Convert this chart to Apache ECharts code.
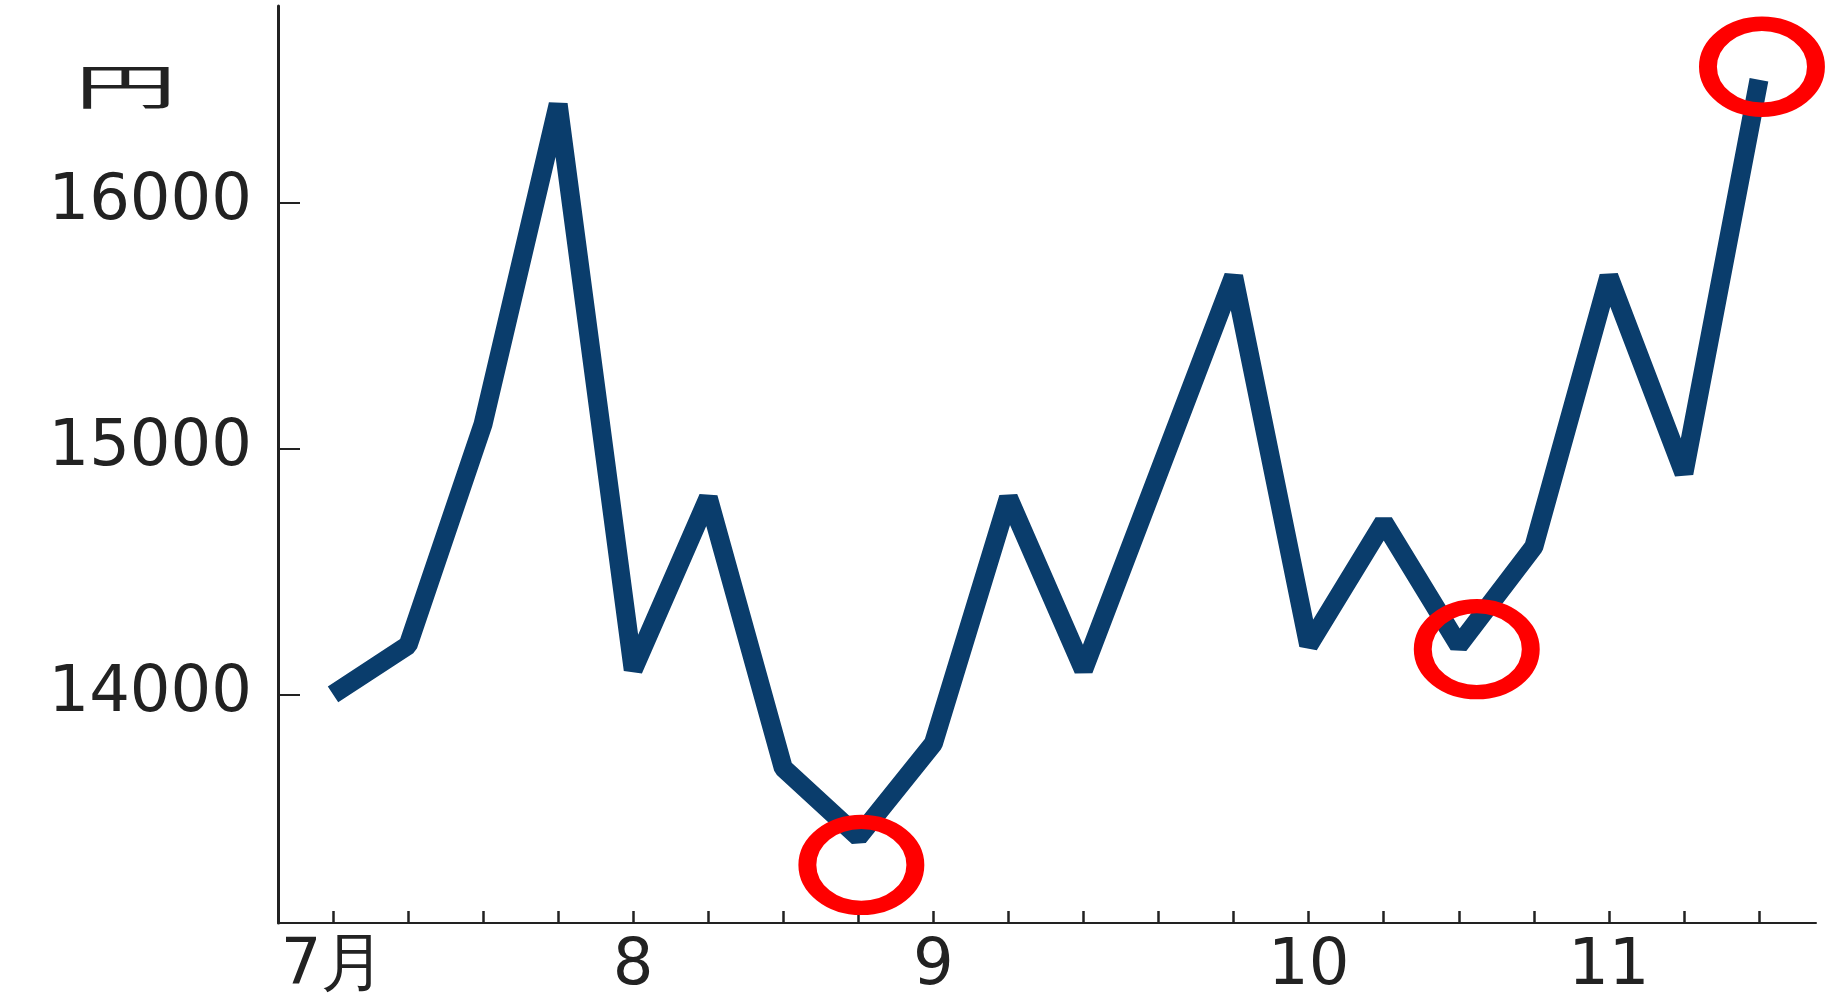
<!DOCTYPE html>
<html><head><meta charset="utf-8">
<script src="https://cdn.jsdelivr.net/npm/echarts@6/dist/echarts.min.js"></script>
<style>html,body{margin:0;padding:0;background:#fff}#c{width:1832px;height:994px}</style>
</head><body><div id="c"></div>
<script>
// weekly price, 円
const categories = ['7月','','','','8','','','','9','','','','','10','','','','11','',''];
const values = [14000,14200,15100,16400,14100,14800,13700,13420,13800,14800,14100,14900,15700,14200,14700,14200,14600,15700,14900,16500];
const yTicks = [14000,15000,16000];
const highlightIdx = [7,15,19];
const unitLabel = '円';

const offsets = {7:[3,28],15:[18,4],19:[3,-13]};
const labelIdx = categories.map((c,i)=>c?i:-1).filter(i=>i>=0);
const tickIdx = categories.map((c,i)=>i);

const chart = echarts.init(document.getElementById('c'));
chart.setOption({
  animation:false,
  backgroundColor:'#fff',
  graphic:[{type:'text',x:74,y:62,scaleX:2.15,originX:0,originY:0,
    style:{text:unitLabel,font:'48px "Noto Sans CJK JP"',fill:'#222'}}],
  grid:{left:278,right:16,top:6,bottom:71,containLabel:false,outerBoundsMode:'none'},
  xAxis:{type:'value',min:-0.733,max:19.76,
    axisLine:{onZero:false,lineStyle:{color:'#222',width:2}},
    axisTick:{inside:true,length:12,lineStyle:{color:'#222',width:2.5},customValues:tickIdx},
    axisLabel:{customValues:labelIdx,formatter:v=>categories[Math.round(v)],fontFamily:'DejaVu Sans',fontSize:64,color:'#222',margin:12},
    splitLine:{show:false}},
  yAxis:{type:'value',min:13070,max:16800,
    axisLine:{show:true,onZero:false,lineStyle:{color:'#222',width:3}},
    axisTick:{show:true,inside:true,length:22,lineStyle:{color:'#222',width:2},customValues:yTicks},
    axisLabel:{customValues:yTicks,formatter:v=>String(v),fontFamily:'DejaVu Sans',fontSize:64,color:'#222',margin:26},
    splitLine:{show:false}},
  series:[{type:'line',data:values.map((v,i)=>[i,v]),symbol:'none',
    lineStyle:{color:'#0a3d6c',width:19,join:'bevel'},
    markPoint:{symbol:'circle',symbolSize:[108,86],silent:true,
      itemStyle:{color:'rgba(0,0,0,0)',borderColor:'#ff0000',borderWidth:16},
      label:{show:false},
      data:highlightIdx.map(i=>({coord:[i,values[i]],symbolOffset:offsets[i]}))}
  }]
});
</script></body></html>
